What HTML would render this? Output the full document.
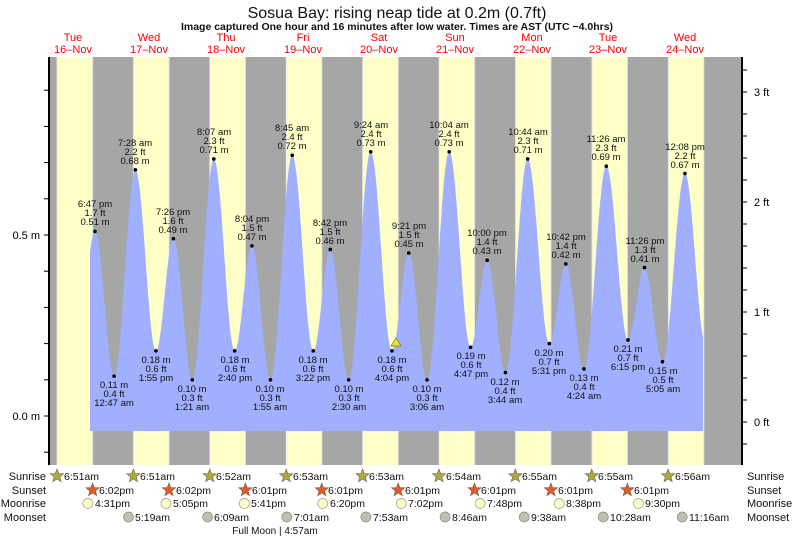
<!DOCTYPE html>
<html><head><meta charset="utf-8"><style>
html,body{margin:0;padding:0;background:#fff;}
svg{display:block;font-family:"Liberation Sans",sans-serif;}
.t{font-size:9.5px;fill:#111;text-anchor:middle;}
.d{font-size:11px;fill:#f00;text-anchor:middle;}
.r{font-size:11px;fill:#111;}
</style></head><body>
<svg id="s" width="793" height="539" viewBox="0 0 793 539">
<rect x="49" y="57" width="693" height="408" fill="#a6a6a6"/>
<g id="bands"></g>
<path id="tide" fill="#a0b0ff" d=""/>
<g id="dots"></g>
<line x1="49" y1="57" x2="49" y2="465" stroke="#000" stroke-width="2"/>
<line x1="742" y1="57" x2="742" y2="465" stroke="#000" stroke-width="2"/>
<g id="ticks" stroke="#000"></g>
<polygon points="391,346 401,346 396,338" fill="#e8e040" stroke="#887700" stroke-width="0.7"/>
<text x="397" y="18" style="font-size:16px;text-anchor:middle" fill="#111">Sosua Bay: rising  neap tide at 0.2m (0.7ft)</text>
<text x="397" y="30" style="font-size:10.5px;font-weight:bold;text-anchor:middle" fill="#111">Image captured One hour and 16 minutes after low water. Times are AST (UTC −4.0hrs)</text>
<text class="d" x="73" y="41">Tue</text><text class="d" x="73" y="53">16–Nov</text>
<text class="d" x="149" y="41">Wed</text><text class="d" x="149" y="53">17–Nov</text>
<text class="d" x="226" y="41">Thu</text><text class="d" x="226" y="53">18–Nov</text>
<text class="d" x="303" y="41">Fri</text><text class="d" x="303" y="53">19–Nov</text>
<text class="d" x="379" y="41">Sat</text><text class="d" x="379" y="53">20–Nov</text>
<text class="d" x="455" y="41">Sun</text><text class="d" x="455" y="53">21–Nov</text>
<text class="d" x="532" y="41">Mon</text><text class="d" x="532" y="53">22–Nov</text>
<text class="d" x="608" y="41">Tue</text><text class="d" x="608" y="53">23–Nov</text>
<text class="d" x="685" y="41">Wed</text><text class="d" x="685" y="53">24–Nov</text>
<text x="40" y="239" style="font-size:11px;text-anchor:end">0.5 m</text>
<text x="40" y="420" style="font-size:11px;text-anchor:end">0.0 m</text>
<text x="754" y="96" style="font-size:11px">3 ft</text>
<text x="754" y="206" style="font-size:11px">2 ft</text>
<text x="754" y="316" style="font-size:11px">1 ft</text>
<text x="754" y="426" style="font-size:11px">0 ft</text>
<!-- highs -->
<g class="t">
<text x="95" y="207">6:47 pm</text><text x="95" y="216">1.7 ft</text><text x="95" y="225">0.51 m</text>
<text x="135" y="146">7:28 am</text><text x="135" y="155">2.2 ft</text><text x="135" y="164">0.68 m</text>
<text x="173" y="215">7:26 pm</text><text x="173" y="224">1.6 ft</text><text x="173" y="233">0.49 m</text>
<text x="214" y="135">8:07 am</text><text x="214" y="144">2.3 ft</text><text x="214" y="153">0.71 m</text>
<text x="252" y="222">8:04 pm</text><text x="252" y="231">1.5 ft</text><text x="252" y="240">0.47 m</text>
<text x="292" y="131">8:45 am</text><text x="292" y="140">2.4 ft</text><text x="292" y="149">0.72 m</text>
<text x="330" y="226">8:42 pm</text><text x="330" y="235">1.5 ft</text><text x="330" y="244">0.46 m</text>
<text x="371" y="128">9:24 am</text><text x="371" y="137">2.4 ft</text><text x="371" y="146">0.73 m</text>
<text x="409" y="229">9:21 pm</text><text x="409" y="238">1.5 ft</text><text x="409" y="247">0.45 m</text>
<text x="449" y="128">10:04 am</text><text x="449" y="137">2.4 ft</text><text x="449" y="146">0.73 m</text>
<text x="487" y="236">10:00 pm</text><text x="487" y="245">1.4 ft</text><text x="487" y="254">0.43 m</text>
<text x="528" y="135">10:44 am</text><text x="528" y="144">2.3 ft</text><text x="528" y="153">0.71 m</text>
<text x="566" y="240">10:42 pm</text><text x="566" y="249">1.4 ft</text><text x="566" y="258">0.42 m</text>
<text x="606" y="142">11:26 am</text><text x="606" y="151">2.3 ft</text><text x="606" y="160">0.69 m</text>
<text x="645" y="244">11:26 pm</text><text x="645" y="253">1.3 ft</text><text x="645" y="262">0.41 m</text>
<text x="685" y="150">12:08 pm</text><text x="685" y="159">2.2 ft</text><text x="685" y="168">0.67 m</text>
</g>
<!-- lows -->
<g class="t">
<text x="114" y="388">0.11 m</text><text x="114" y="397">0.4 ft</text><text x="114" y="406">12:47 am</text>
<text x="156" y="363">0.18 m</text><text x="156" y="372">0.6 ft</text><text x="156" y="381">1:55 pm</text>
<text x="192" y="392">0.10 m</text><text x="192" y="401">0.3 ft</text><text x="192" y="410">1:21 am</text>
<text x="235" y="363">0.18 m</text><text x="235" y="372">0.6 ft</text><text x="235" y="381">2:40 pm</text>
<text x="270" y="392">0.10 m</text><text x="270" y="401">0.3 ft</text><text x="270" y="410">1:55 am</text>
<text x="313" y="363">0.18 m</text><text x="313" y="372">0.6 ft</text><text x="313" y="381">3:22 pm</text>
<text x="349" y="392">0.10 m</text><text x="349" y="401">0.3 ft</text><text x="349" y="410">2:30 am</text>
<text x="392" y="363">0.18 m</text><text x="392" y="372">0.6 ft</text><text x="392" y="381">4:04 pm</text>
<text x="427" y="392">0.10 m</text><text x="427" y="401">0.3 ft</text><text x="427" y="410">3:06 am</text>
<text x="471" y="359">0.19 m</text><text x="471" y="368">0.6 ft</text><text x="471" y="377">4:47 pm</text>
<text x="505" y="385">0.12 m</text><text x="505" y="394">0.4 ft</text><text x="505" y="403">3:44 am</text>
<text x="549" y="356">0.20 m</text><text x="549" y="365">0.7 ft</text><text x="549" y="374">5:31 pm</text>
<text x="584" y="381">0.13 m</text><text x="584" y="390">0.4 ft</text><text x="584" y="399">4:24 am</text>
<text x="628" y="352">0.21 m</text><text x="628" y="361">0.7 ft</text><text x="628" y="370">6:15 pm</text>
<text x="663" y="374">0.15 m</text><text x="663" y="383">0.5 ft</text><text x="663" y="392">5:05 am</text>
</g>
<g class="r" style="text-anchor:end">
<text x="46" y="480">Sunrise</text><text x="46" y="494">Sunset</text><text x="46" y="507">Moonrise</text><text x="46" y="521">Moonset</text>
</g>
<g class="r">
<text x="747" y="480">Sunrise</text><text x="747" y="494">Sunset</text><text x="747" y="507">Moonrise</text><text x="747" y="521">Moonset</text>
</g>
<g id="icons"></g>
<g style="font-size:10.5px" fill="#111">
<text x="64" y="480">6:51am</text><text x="140" y="480">6:51am</text><text x="216" y="480">6:52am</text><text x="293" y="480">6:53am</text><text x="369" y="480">6:53am</text><text x="446" y="480">6:54am</text><text x="522" y="480">6:55am</text><text x="598" y="480">6:55am</text><text x="675" y="480">6:56am</text>
<text x="99" y="494">6:02pm</text><text x="176" y="494">6:02pm</text><text x="252" y="494">6:01pm</text><text x="328" y="494">6:01pm</text><text x="405" y="494">6:01pm</text><text x="481" y="494">6:01pm</text><text x="558" y="494">6:01pm</text><text x="634" y="494">6:01pm</text>
<text x="95" y="507">4:31pm</text><text x="173" y="507">5:05pm</text><text x="251" y="507">5:41pm</text><text x="330" y="507">6:20pm</text><text x="408" y="507">7:02pm</text><text x="487" y="507">7:48pm</text><text x="566" y="507">8:38pm</text><text x="645" y="507">9:30pm</text>
<text x="135" y="521">5:19am</text><text x="214" y="521">6:09am</text><text x="294" y="521">7:01am</text><text x="373" y="521">7:53am</text><text x="452" y="521">8:46am</text><text x="531" y="521">9:38am</text><text x="610" y="521">10:28am</text><text x="689" y="521">11:16am</text>
<text x="275" y="534" style="font-size:10px;text-anchor:middle">Full Moon | 4:57am</text>
</g>
</svg>
<script>
var NS="http://www.w3.org/2000/svg";
function X(t){return 35.2+3.183*t;}
function el(n,a,p){var e=document.createElementNS(NS,n);for(var k in a)e.setAttribute(k,a[k]);p.appendChild(e);return e;}
var b=document.getElementById("bands");
for(var d=0;d<9;d++){var x1=X(24*d+6.85+d*0.01),x2=X(24*d+18.03);x2=Math.min(x2,742);el("rect",{x:x1,y:57,width:x2-x1,height:408,fill:"#ffffc8"},b);
 el("line",{x1:x1,y1:57,x2:x1,y2:465,stroke:"#e6e6e6","stroke-width":1},b);el("line",{x1:x2,y1:57,x2:x2,y2:465,stroke:"#e6e6e6","stroke-width":1},b);}
var E=[[12.6,0.12],[18.78,.51],[24.78,.11],[31.47,.68],[37.92,.18],[43.43,.49],[49.35,.10],[56.12,.71],[62.67,.18],[68.07,.47],[73.92,.10],[80.75,.72],[87.37,.18],[92.7,.46],[98.5,.10],[105.4,.73],[112.07,.18],[117.35,.45],[123.1,.10],[130.07,.73],[136.78,.19],[142,.43],[147.73,.12],[154.73,.71],[161.52,.20],[166.7,.42],[172.4,.13],[179.43,.69],[186.25,.21],[191.43,.41],[197.08,.15],[204.13,.67],[210.6,.2]];
function Y(h){return 416-362*h;}
function H(t){for(var i=0;i<E.length-1;i++){if(t>=E[i][0]&&t<=E[i+1][0]){var f=(t-E[i][0])/(E[i+1][0]-E[i][0]);return E[i][1]+(E[i+1][1]-E[i][1])*(1-Math.cos(Math.PI*f))/2;}}return 0.2;}
var t0=(90-35.2)/3.183,t1=(703-35.2)/3.183,p="M90,431";
for(var t=t0;t<=t1;t+=0.1)p+=" L"+X(t).toFixed(1)+","+Y(H(t)).toFixed(1);
p+=" L703,"+Y(H(t1)).toFixed(1)+" L703,431 Z";
document.getElementById("tide").setAttribute("d",p);
var dg=document.getElementById("dots");
for(var i=1;i<E.length-1;i++)el("circle",{cx:X(E[i][0]),cy:Y(E[i][1]),r:1.8,fill:"#000"},dg);
var tk=document.getElementById("ticks");
for(var y=416;y>57;y-=36.2)el("line",{x1:44,y1:y,x2:49,y2:y},tk);
for(var y=416+36.2;y<465;y+=36.2)el("line",{x1:44,y1:y,x2:49,y2:y},tk);
for(var y=422;y>57;y-=22)el("line",{x1:742,y1:y,x2:747,y2:y},tk);
for(var y=444;y<465;y+=22)el("line",{x1:742,y1:y,x2:747,y2:y},tk);
var ic=document.getElementById("icons");
function star(cx,cy,f){var s="";for(var k=0;k<10;k++){var r=k%2?3:7,a=-Math.PI/2+k*Math.PI/5;s+=(cx+r*Math.cos(a)).toFixed(1)+","+(cy+r*Math.sin(a)).toFixed(1)+" ";}el("polygon",{points:s,fill:f,stroke:"#665","stroke-width":0.6},ic);}
for(var d=0;d<9;d++)star(57+76.39*d,476,"#b0a838");
for(var d=0;d<8;d++)star(92.6+76.39*d,490,"#e05a2a");
[87.8,166,244.3,322.7,401.3,480.2,559.2,638.4].forEach(function(x){el("circle",{cx:x,cy:503.5,r:5,fill:"#ffffc8",stroke:"#998","stroke-width":0.7},ic);});
[128.5,207.6,286.7,365.9,445.1,524.2,603.3,682.2].forEach(function(x){el("circle",{cx:x,cy:517,r:5,fill:"#c0c0b0",stroke:"#888","stroke-width":0.7},ic);});
</script>
</body></html>
